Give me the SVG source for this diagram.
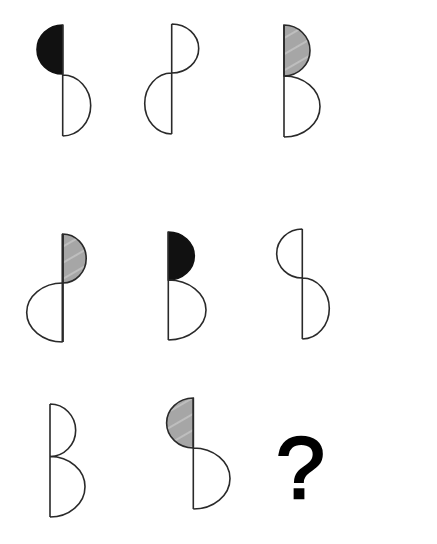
<svg xmlns="http://www.w3.org/2000/svg" width="437" height="544" viewBox="0 0 437 544">
<style>
.s{fill:none;stroke:#2a2a2a;stroke-width:1.6}
.b{fill:#111;stroke:#111;stroke-width:1.6}
.h{fill:url(#hatch);stroke:#2a2a2a;stroke-width:1.6}
.q{font-family:"Liberation Sans",Arial,sans-serif;font-size:88px;fill:#000;stroke:#000;stroke-width:2.4}
</style>
<defs>
<pattern id="hatch" patternUnits="userSpaceOnUse" width="14" height="14" patternTransform="rotate(-30)">
<rect width="14" height="14" fill="#a6a6a6"/>
<line x1="0" y1="7" x2="14" y2="7" stroke="#c6c6c6" stroke-width="1.5"/>
</pattern>
</defs>
<rect width="437" height="544" fill="#fff"/>
<g id="fig1">
<path class="b" d="M62.7,25 A25.7,24.5 0 0 0 62.7,74 Z"/>
<path class="s" d="M62.7,75 A28,30.5 0 0 1 62.7,136 M62.7,25 V136"/>
</g>
<g id="fig2">
<path class="s" d="M171.7,24 A27,24.5 0 0 1 171.7,73 A27,30.5 0 0 0 171.7,134 M171.7,24 V134"/>
</g>
<g id="fig3">
<path class="h" d="M284,25 A26,25.5 0 0 1 284,76 Z"/>
<path class="s" d="M284,76 A36,30.5 0 0 1 284,137 M284,25 V137"/>
</g>
<g id="fig4">
<path class="h" d="M62.7,234 A23.5,24.5 0 0 1 62.7,283 Z"/>
<path class="s" d="M62.7,283 A36,29.5 0 0 0 62.7,342"/>
<path class="s" style="stroke-width:2.4" d="M62.7,234 V342"/>
</g>
<g id="fig5">
<path class="b" d="M168.3,232 A26,24 0 0 1 168.3,280 Z"/>
<path class="s" d="M168.3,280 A37.7,30 0 0 1 168.3,340 M168.3,232 V340"/>
</g>
<g id="fig6">
<path class="s" d="M302.3,229 A25.6,24.5 0 0 0 302.3,278 A27,30.5 0 0 1 302.3,339 M302.3,229 V339"/>
</g>
<g id="fig7">
<path class="s" d="M50,404 A25.7,26.25 0 0 1 50,456.5 A35,30.25 0 0 1 50,517 M50,404 V517"/>
</g>
<g id="fig8">
<path class="h" d="M193.3,398 A26.7,25 0 0 0 193.3,448 Z"/>
<path class="s" d="M193.3,448 A36.7,30.5 0 0 1 193.3,509 M193.3,398 V509"/>
</g>
<g id="question">
<text class="q" x="276" y="498">?</text>
</g>
</svg>
